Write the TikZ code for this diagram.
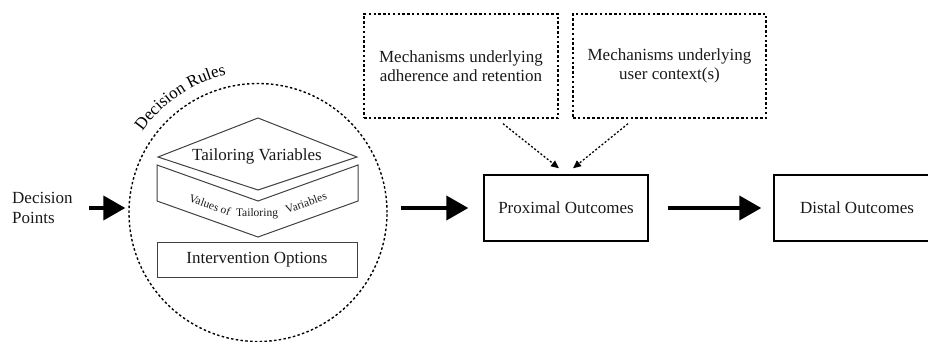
\documentclass[tikz,border=0pt]{standalone}
\usepackage{fontspec}
\setmainfont{Liberation Serif}
\usetikzlibrary{arrows.meta,decorations.text,calc}
\begin{document}
\begin{tikzpicture}[x=1pt,y=-1pt,
  big/.style={font=\fontsize{17}{19.5}\selectfont, text=black!90},
  small/.style={font=\fontsize{11.5}{13}\selectfont, text=black!90, inner sep=0pt},
  bigarrow/.style={line width=4pt, -{Triangle[length=22pt,width=24pt]}},
  dotarrow/.style={line width=1.3pt, dash pattern=on 2pt off 2pt, -{Triangle[length=8pt,width=7pt]}},
  dotline/.style={line width=1.4pt, dash pattern=on 2.5pt off 2.3pt},
  solidbox/.style={draw, line width=1.4pt, minimum width=164pt, minimum height=66pt, inner sep=0pt, big},
  dotbox/.style={draw, dotline, minimum width=194pt, minimum height=104pt, inner sep=0pt, align=center, big},
  innerline/.style={draw=black!75, line width=1pt}]
\useasboundingbox (0,0) rectangle (928,342);
\clip (0,0) rectangle (928,342);

% left label
\node[big, align=left, anchor=west, inner sep=0pt] (dp) at (12,208) {Decision\\Points};

% decision rules circle
\node[circle, draw, dotline, minimum size=258pt, inner sep=0pt] (rules) at (258,212.5) {};
\path[decorate, decoration={text along path, text align=center,
   text={|\fontsize{17}{20}\selectfont|Decision Rules}}]
   (258,212.5) ++(-148:141) arc[start angle=-148, end angle=-100, radius=141];

% tailoring variables diamond
\draw[innerline] (158,157) -- (258,118) -- (357,157) -- (258,190) -- cycle;
\node[big] (tv) at (257,156) {Tailoring Variables};

% values chevron
\draw[innerline] (157,165) -- (258,201) -- (358,165) -- (358,201) -- (258,237) -- (157,201) -- cycle;
\node[small, rotate=-19.6] (vo) at (210,205) {Values of};
\node[small] (vt) at (257,214) {Tailoring};
\node[small, rotate=19.6] (vv) at (306,203) {Variables};

% intervention options
\node[innerline, minimum width=200pt, minimum height=35pt, inner sep=0pt, big] (io) at (257,259.5) {Intervention Options};

% outcome boxes
\node[solidbox] (prox) at (566,208) {Proximal Outcomes};
\node[solidbox, minimum width=166pt] (dist) at (857,208) {Distal Outcomes};

% mechanism boxes
\node[dotbox] (mech1) at (461,66) {Mechanisms underlying\\adherence and retention};
\node[dotbox, minimum width=193pt] (mech2) at (669.5,66) {Mechanisms underlying\\user context(s)};

% arrows
\draw[bigarrow, shorten <=16pt, shorten >=3pt] (dp.east) -- (rules.west |- dp.east);
\draw[bigarrow, shorten <=13pt, shorten >=15pt] (rules.east |- prox.west) -- (prox.west);
\draw[bigarrow, shorten <=19pt, shorten >=12pt] (prox.east) -- (dist.west);
\draw[dotarrow] ([xshift=42pt,yshift=-5pt]mech1.south) -- ([xshift=-7pt,yshift=6pt]prox.north);
\draw[dotarrow] ([xshift=-41.5pt,yshift=-5pt]mech2.south) -- ([xshift=7pt,yshift=6pt]prox.north);
\end{tikzpicture}
\end{document}
